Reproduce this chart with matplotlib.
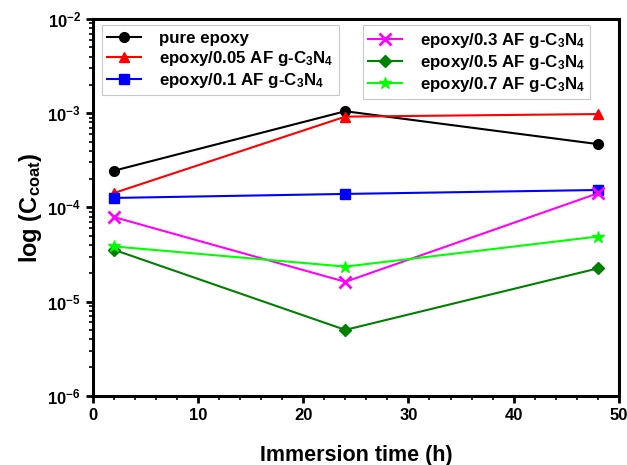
import matplotlib
matplotlib.use("Agg")
import matplotlib.pyplot as plt
from matplotlib.ticker import MultipleLocator, LogLocator, NullFormatter, FuncFormatter
import numpy as np

plt.rcParams['font.family'] = ['Liberation Sans', 'DejaVu Sans']
plt.rcParams['font.weight'] = 'bold'
plt.rcParams['mathtext.fontset'] = 'custom'
plt.rcParams['mathtext.rm'] = 'Liberation Sans:bold'
plt.rcParams['mathtext.bf'] = 'Liberation Sans:bold'
plt.rcParams['mathtext.it'] = 'Liberation Sans:bold'
plt.rcParams['mathtext.default'] = 'bf'
plt.rcParams['axes.unicode_minus'] = False

time_h = [2, 24, 48]
labels = ["pure epoxy",
          "epoxy/0.05 AF g-C$_3$N$_4$",
          "epoxy/0.1 AF g-C$_3$N$_4$",
          "epoxy/0.3 AF g-C$_3$N$_4$",
          "epoxy/0.5 AF g-C$_3$N$_4$",
          "epoxy/0.7 AF g-C$_3$N$_4$"]
pure_epoxy = [2.45e-4, 1.05e-3, 4.7e-4]
af_005 = [1.42e-4, 9.2e-4, 9.8e-4]
af_01 = [1.26e-4, 1.39e-4, 1.53e-4]
af_03 = [7.9e-5, 1.62e-5, 1.41e-4]
af_05 = [3.55e-5, 5.0e-6, 2.25e-5]
af_07 = [3.85e-5, 2.35e-5, 4.9e-5]

series = [pure_epoxy, af_005, af_01, af_03, af_05, af_07]
colors = ['black', 'red', 'blue', 'magenta', '#008000', '#00FF00']
markers = ['o', '^', 's', 'x', 'D', '*']
msizes = [7, 7, 7, 8, 6, 9]

fig = plt.figure(figsize=(6.27, 4.65), dpi=100)
ax = fig.add_axes([0.148, 0.149, 0.839, 0.810])

handles = []
for vals, c, m, ms, lab in zip(series, colors, markers, msizes, labels):
    h, = ax.plot(time_h, vals, color=c, marker=m, markersize=ms, lw=1.5,
                 mew=2 if m == 'x' else 1, label=lab)
    handles.append(h)

ax.set_yscale('log')
ax.set_xlim(0, 50)
ax.set_ylim(1e-6, 1e-2)
ax.xaxis.set_major_locator(MultipleLocator(10))
ax.xaxis.set_minor_locator(MultipleLocator(2))
ax.yaxis.set_major_locator(LogLocator(base=10, numticks=10))
ax.yaxis.set_minor_locator(LogLocator(base=10, subs=range(2, 10), numticks=20))
ax.yaxis.set_minor_formatter(NullFormatter())
ax.yaxis.set_major_formatter(FuncFormatter(
    lambda v, p: '10$^{%d}$' % int(round(np.log10(v)))))

for sp in ax.spines.values():
    sp.set_linewidth(2.2)
ax.tick_params(which='major', direction='out', length=5, width=2, labelsize=12)
ax.tick_params(which='minor', direction='out', length=3, width=1.2)
for t in ax.get_xticklabels() + ax.get_yticklabels():
    t.set_fontweight('bold')

ax.set_xlabel('Immersion time (h)', fontsize=15.5, fontweight='bold', labelpad=16)
ax.set_ylabel('log (C$_{coat}$)', fontsize=17, fontweight='bold', labelpad=2)

common = dict(fontsize=12.2, frameon=True, fancybox=False, handlelength=2.0,
              labelspacing=0.2, borderpad=0.3, handletextpad=1.1, borderaxespad=0)
leg1 = ax.legend(handles=handles[:3], loc='upper left', bbox_to_anchor=(0.017, 0.983), **common)
leg1.get_frame().set_edgecolor('#bbbbbb')
leg1.get_frame().set_linewidth(0.8)
ax.add_artist(leg1)
leg2 = ax.legend(handles=handles[3:], loc='upper left', bbox_to_anchor=(0.513, 0.983), **common)
leg2.get_frame().set_edgecolor('#bbbbbb')
leg2.get_frame().set_linewidth(0.8)

fig.savefig('out.png', dpi=100)
